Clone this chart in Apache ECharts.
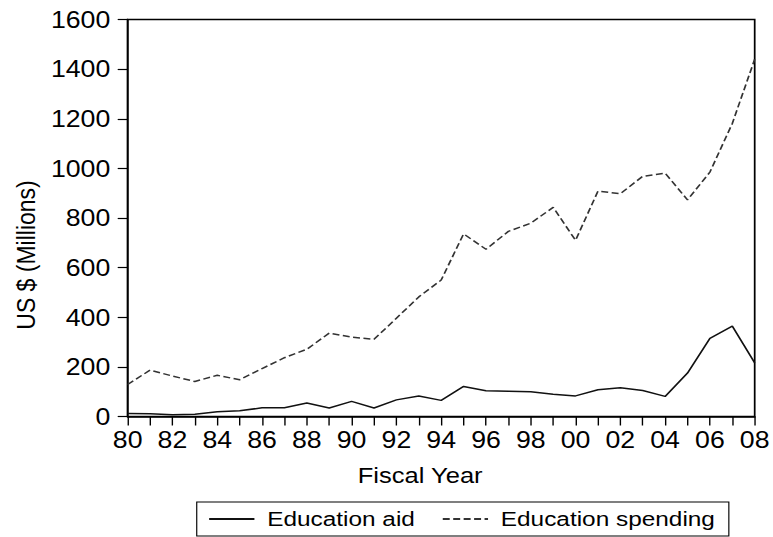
<!DOCTYPE html>
<html>
<head>
<meta charset="utf-8">
<script src="https://cdn.jsdelivr.net/npm/echarts@6/dist/echarts.min.js"></script>
<style>
  html, body { margin: 0; padding: 0; background: #fff; overflow: hidden; }
  /* The chart is laid out narrower and widened with a horizontal scale,
     giving the wide, stretched lettering of the original export. */
  #chart { width: 666px; height: 537px; transform: scaleX(1.1607); transform-origin: 0 0; }
</style>
</head>
<body>
<div id="chart"></div>
<script>
// Fiscal years shown on the horizontal axis
const years = [1980, 1981, 1982, 1983, 1984, 1985, 1986, 1987, 1988, 1989,
               1990, 1991, 1992, 1993, 1994, 1995, 1996, 1997, 1998, 1999,
               2000, 2001, 2002, 2003, 2004, 2005, 2006, 2007, 2008];

// US $ millions
const educationAid = [12, 11, 7, 9, 19, 23, 35, 35, 54, 34,
                      61, 34, 67, 83, 65, 121, 104, 102, 100, 90,
                      83, 108, 116, 105, 81, 175, 315, 364, 216];

const educationSpending = [129, 187, 163, 141, 166, 148, 193, 237, 271, 336,
                           320, 311, 396, 482, 550, 736, 674, 746, 779, 843,
                           710, 908, 898, 968, 981, 873, 985, 1181, 1440];

const yTicks = [0, 200, 400, 600, 800, 1000, 1200, 1400, 1600];

const FONT = '"Liberation Sans", Arial, Helvetica, sans-serif';
const chart = echarts.init(document.getElementById('chart'), null, { renderer: 'svg' });

chart.setOption({
  backgroundColor: '#fff',
  animation: false,
  textStyle: { fontFamily: FONT, color: '#000' },
  grid: {
    left: 110, right: 14, top: 19.5, bottom: 120.5,
    show: true, borderColor: '#000', borderWidth: 1.5
  },
  xAxis: {
    type: 'category',
    data: years,
    boundaryGap: false,
    axisLine: { lineStyle: { color: '#000', width: 1.5 } },
    axisTick: { show: true, interval: 0, length: 9, lineStyle: { color: '#000', width: 1.2 } },
    axisLabel: {
      interval: 1, margin: 12, fontSize: 23, color: '#000', fontFamily: FONT,
      formatter: v => String(v).slice(2)
    },
    splitLine: { show: false }
  },
  yAxis: {
    type: 'value',
    min: yTicks[0],
    max: yTicks[yTicks.length - 1],
    interval: yTicks[1] - yTicks[0],
    axisLine: { show: true, lineStyle: { color: '#000', width: 1.5 } },
    axisTick: { show: true, length: 8.6, lineStyle: { color: '#000', width: 1.2 } },
    axisLabel: { margin: 15, fontSize: 23, color: '#000', fontFamily: FONT, formatter: v => String(v) },
    splitLine: { show: false }
  },
  legend: {
    left: 169.5, top: 502,
    orient: 'horizontal',
    padding: [6, 12, 6, 9.7],
    itemGap: 23,
    itemWidth: 39,
    itemHeight: 14,
    borderColor: '#000', borderWidth: 1, borderRadius: 0,
    itemStyle: { opacity: 0 },
    textStyle: { fontSize: 21, lineHeight: 22, color: '#000', fontFamily: FONT, padding: [0, 0, 0, 6] },
    data: ['Education aid', 'Education spending']
  },
  graphic: [
    {
      type: 'text', x: 21.5, y: 255, rotation: Math.PI / 2,
      style: {
        text: 'US $ (Millions)', fontSize: 23, fontFamily: FONT, fill: '#000',
        align: 'center', verticalAlign: 'middle'
      }
    },
    {
      type: 'text', x: 362, y: 475,
      style: {
        text: 'Fiscal Year', fontSize: 22, fontFamily: FONT, fill: '#000',
        align: 'center', verticalAlign: 'middle'
      }
    }
  ],
  series: [
    {
      name: 'Education aid',
      type: 'line',
      data: educationAid,
      symbol: 'none',
      lineStyle: { color: '#111', width: 1.5, type: 'solid' },
      itemStyle: { color: '#111' }
    },
    {
      name: 'Education spending',
      type: 'line',
      data: educationSpending,
      symbol: 'none',
      lineStyle: { color: '#333', width: 1.5, type: [6, 3] },
      itemStyle: { color: '#333' }
    }
  ]
});
</script>
</body>
</html>
